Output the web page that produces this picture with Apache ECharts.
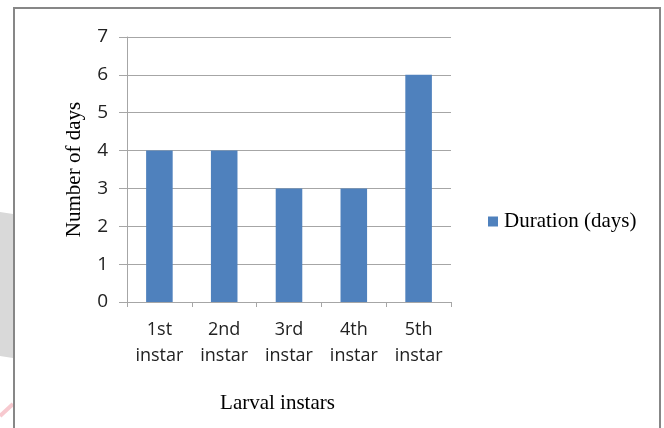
<!DOCTYPE html>
<html>
<head>
<meta charset="utf-8">
<script src="https://cdn.jsdelivr.net/npm/echarts@6/dist/echarts.min.js"></script>
<style>
  html, body { margin: 0; padding: 0; background: #ffffff; }
  #chart { width: 664px; height: 428px; }
</style>
</head>
<body>
<div id="chart"></div>
<script>
// Larval instar stages and their duration in days
const categories = ['1st\ninstar', '2nd\ninstar', '3rd\ninstar', '4th\ninstar', '5th\ninstar'];
const durationDays = [4, 4, 3, 3, 6];
const seriesName = 'Duration (days)';
const yTickMax = 7;
const yTickStep = 1;

const chart = echarts.init(document.getElementById('chart'), null, { renderer: 'canvas' });

const gridColor = '#a6a6a6';
const sansFont = '"Open Sans", "Noto Sans", sans-serif';
const serifFont = '"Liberation Serif", "DejaVu Serif", serif';

chart.setOption({
  animation: false,
  backgroundColor: '#ffffff',
  graphic: [
    // faint page decoration on the left edge
    { type: 'polygon', silent: true, z: -10,
      shape: { points: [[0, 212], [13, 214], [13, 358], [0, 356]] },
      style: { fill: '#d9d9d9' } },
    { type: 'line', silent: true, z: -10,
      shape: { x1: 0, y1: 416, x2: 13, y2: 404 },
      style: { stroke: '#f7c9cf', lineWidth: 4 } },
    // chart frame
    { type: 'rect', silent: true, z: -5,
      shape: { x: 14, y: 8, width: 646, height: 440 },
      style: { fill: 'none', stroke: '#878787', lineWidth: 2 } }
  ],
  grid: { left: 127, top: 37, right: 213, bottom: 126, containLabel: false },
  legend: {
    data: [seriesName],
    left: 483, top: 206,
    itemWidth: 10, itemHeight: 10, itemGap: 6,
    icon: 'rect',
    textStyle: { fontFamily: serifFont, fontSize: 21, color: '#000000', padding: [0, 0, 0, 1] }
  },
  xAxis: {
    type: 'category',
    data: categories,
    name: 'Larval instars',
    nameLocation: 'middle',
    nameGap: 91,
    nameTextStyle: { fontFamily: serifFont, fontSize: 21, color: '#000000', padding: [0, 23, 0, 0] },
    axisLine: { lineStyle: { color: gridColor, width: 1 } },
    axisTick: { show: true, length: 5, lineStyle: { color: gridColor } },
    axisLabel: { fontFamily: sansFont, fontSize: 18, color: '#222222', margin: 15, lineHeight: 26 }
  },
  yAxis: {
    type: 'value',
    min: 0, max: yTickMax, interval: yTickStep,
    name: 'Number of days',
    nameLocation: 'middle',
    nameGap: 42,
    nameTextStyle: { fontFamily: serifFont, fontSize: 21, color: '#000000' },
    axisLine: { show: true, lineStyle: { color: gridColor, width: 1 } },
    axisTick: { show: true, length: 8, lineStyle: { color: gridColor } },
    axisLabel: { fontFamily: sansFont, fontSize: 19, color: '#222222', margin: 19 },
    splitLine: { show: true, lineStyle: { color: gridColor, width: 1 } }
  },
  series: [{
    name: seriesName,
    type: 'bar',
    data: durationDays,
    barWidth: '41%',
    itemStyle: { color: '#4f81bd' }
  }]
});
</script>
</body>
</html>
